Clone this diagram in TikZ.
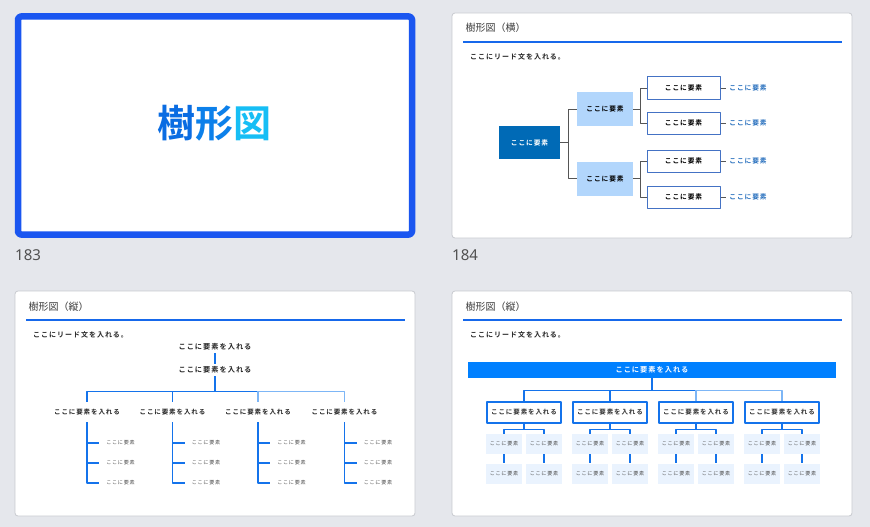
\documentclass[tikz,border=0pt]{standalone}
\usepackage{fontspec}
\newfontfamily\jpfont[BoldFont={Noto Sans CJK JP Bold}]{Noto Sans CJK JP}
\newfontfamily\jpwide[LetterSpace=14,BoldFont={Noto Sans CJK JP Bold}]{Noto Sans CJK JP}
\newfontfamily\numfont{Noto Sans}

\definecolor{deskgray}{RGB}{229,231,236}
\definecolor{selblue}{RGB}{26,86,240}
\definecolor{framegray}{RGB}{200,202,207}
\definecolor{rulerblue}{RGB}{22,104,235}
\definecolor{titlegray}{RGB}{60,60,60}
\definecolor{numgray}{RGB}{80,80,80}
\definecolor{rootblue}{RGB}{0,106,182}
\definecolor{midblue}{RGB}{178,214,252}
\definecolor{boxblue}{RGB}{68,114,196}
\definecolor{leafblue}{RGB}{40,112,190}
\definecolor{linkgray}{RGB}{85,85,85}
\definecolor{treeblue}{RGB}{20,115,235}
\definecolor{treelight}{RGB}{125,182,246}
\definecolor{barblue}{RGB}{0,128,255}
\definecolor{cellblue}{RGB}{234,243,254}
\definecolor{cellgray}{RGB}{80,80,80}
\definecolor{coverA}{RGB}{10,108,226}
\definecolor{coverB}{RGB}{12,128,234}
\definecolor{coverC}{RGB}{22,190,245}

\begin{document}
\begin{tikzpicture}[x=1pt, y=-1pt, line cap=round, line join=round,
  slide/.style={draw=framegray, line width=0.8pt, fill=white, rounded corners=3pt},
  slidetitle/.style={anchor=west, inner sep=0pt, text=titlegray, font=\jpfont\fontsize{10}{12}\selectfont},
  leadtext/.style={anchor=west, inner sep=0pt, text=black!85, font=\jpwide\bfseries\fontsize{7}{8}\selectfont},
  rule/.style={draw=rulerblue, line width=1.2pt, line cap=butt},
  pagenum/.style={anchor=west, inner sep=0pt, text=numgray, font=\numfont\fontsize{15}{18}\selectfont},
  % horizontal tree
  rootbox/.style={fill=rootblue, text=white, minimum width=61, minimum height=33, inner sep=0pt, font=\jpwide\bfseries\fontsize{6.7}{8}\selectfont},
  midbox/.style={fill=midblue, text=black, minimum width=56, minimum height=34, inner sep=0pt, font=\jpwide\bfseries\fontsize{6.7}{8}\selectfont},
  endbox/.style={draw=boxblue, line width=1pt, fill=white, text=black, minimum width=73, minimum height=22, inner sep=0pt, font=\jpwide\bfseries\fontsize{6.7}{8}\selectfont},
  endtext/.style={text=leafblue, inner xsep=3.5pt, inner ysep=0pt, font=\jpwide\bfseries\fontsize{6.7}{8}\selectfont},
  link/.style={draw=linkgray, line width=1pt, line cap=butt},
  % vertical trees
  vtext/.style={text=black!85, minimum height=12, inner xsep=0pt, inner ysep=0pt, font=\jpwide\bfseries\fontsize{7.2}{9}\selectfont},
  vgroup/.style={vtext, minimum height=20, font=\jpwide\bfseries\fontsize{6.5}{8}\selectfont},
  vleaf/.style={text=cellgray, inner xsep=7pt, inner ysep=0pt, font=\jpwide\fontsize{5.1}{6}\selectfont},
  vlink/.style={draw=treeblue, line width=1.1pt, line cap=butt},
  vlight/.style={draw=treelight, line width=1.1pt, line cap=butt},
  bar/.style={fill=barblue, text=white, minimum width=368, minimum height=16, inner sep=0pt, font=\jpwide\bfseries\fontsize{7.2}{9}\selectfont},
  groupbox/.style={draw=treeblue, line width=1.1pt, fill=white, text=black!80, minimum width=74, minimum height=21, inner sep=0pt, font=\jpwide\bfseries\fontsize{6.5}{8}\selectfont},
  cell/.style={fill=cellblue, text=cellgray, minimum width=36, minimum height=20, inner sep=0pt, font=\jpwide\fontsize{5.1}{6}\selectfont}]

% desk background fixes the page
\fill[deskgray] (0,0) rectangle (870,527);

% --- Slide 183 (selected) ---
\fill[white] (18,16.5) rectangle (412,234.5);
\draw[selblue, line width=6.5pt, rounded corners=3pt] (18,16.5) rectangle (412,234.5);
\node[inner sep=0pt, font=\jpfont\bfseries\fontsize{38}{40}\selectfont] (cover) at (214.5,123)
  {\textcolor{coverA}{樹}\textcolor{coverB}{形}\textcolor{coverC}{図}};
\node[pagenum] (n183) at (15,255) {183};

% --- Slide 184: horizontal tree ---
\draw[slide] (452,13) rectangle (852,238);
\node[slidetitle] (t184) at (465.5,28) {樹形図（横）};
\draw[rule] (463,42) -- (842,42);
\node[leadtext] (lead184) at (470,57) {ここにリード文を入れる。};
\node[pagenum] (n184) at (452,255) {184};

\node[rootbox] (root) at (529.5,142.5) {ここに要素};
\node[midbox] (mA) at (605,109) {ここに要素};
\node[midbox] (mB) at (605,178.5) {ここに要素};
\foreach \n/\y in {1/88,2/123,3/161,4/197}{
  \node[endbox] (e\n) at (683.5,\y) {ここに要素};
  \node[endtext] (r\n) at (748,\y) {ここに要素};
  \draw[link] (e\n.east) -- (r\n.west);
}
\draw[link] (root.east) -- ++(8.5,0) coordinate (jr);
\draw[link] (mA.west) -| (jr) |- (mB.west);
\draw[link] (mA.east) -- ++(7,0) coordinate (ja);
\draw[link] (e1.west) -| (ja) |- (e2.west);
\draw[link] (mB.east) -- ++(7,0) coordinate (jb);
\draw[link] (e3.west) -| (jb) |- (e4.west);

% --- Slide 3: vertical tree (text) ---
\draw[slide] (15,291) rectangle (415,516);
\node[slidetitle] (t3) at (28.5,307) {樹形図（縦）};
\draw[rule] (26,320) -- (405,320);
\node[leadtext] (lead3) at (33,335) {ここにリード文を入れる。};

\node[vtext] (v1) at (215,347) {ここに要素を入れる};
\node[vtext] (v2) at (215,370) {ここに要素を入れる};
\draw[vlink] (v1.south) -- (v2.north);
\draw[vlink] (v2.south) -- ++(0,15) coordinate (vj);
\foreach \i/\x in {1/87,2/172.5,3/258,4/344.5}{
  \node[vgroup] (g\i) at (\x,412) {ここに要素を入れる};
  \foreach \j/\y in {1/443,2/463,3/483}{
    \node[vleaf] (f\i\j) at (\x+33.5,\y) {ここに要素};
  }
  \draw[vlink] (g\i.south) |- (f\i3.west);
  \draw[vlink] (f\i1.west -| g\i.south) -- (f\i1.west);
  \draw[vlink] (f\i2.west -| g\i.south) -- (f\i2.west);
}
\draw[vlink] (g1.north) |- (vj) -- (vj -| g3.north);
\draw[vlink] (g2.north) -- (g2.north |- vj);
\draw[vlight] (vj -| g3.north) -| (g4.north);
\draw[vlight] (g3.north) -- (g3.north |- vj);

% --- Slide 4: vertical tree (boxes) ---
\draw[slide] (452,291) rectangle (852,516);
\node[slidetitle] (t4) at (465.5,307) {樹形図（縦）};
\draw[rule] (463,320) -- (842,320);
\node[leadtext] (lead4) at (470,335) {ここにリード文を入れる。};

\node[bar] (top) at (652,370) {ここに要素を入れる};
\draw[vlink] (top.south) -- ++(0,12) coordinate (bj);
\foreach \i/\c in {1/524,2/610,3/696,4/782}{
  \node[groupbox] (k\i) at (\c,412.5) {ここに要素を入れる};
  \draw[vlink] (k\i.south) -- ++(0,6) coordinate (kj\i);
  \node[cell] (p\i) at (\c-20,444) {ここに要素};
  \node[cell] (s\i) at (\c+20,444) {ここに要素};
  \node[cell] (q\i) at (\c-20,473.5) {ここに要素};
  \node[cell] (u\i) at (\c+20,473.5) {ここに要素};
  \draw[vlink] (p\i.north) |- (kj\i) -| (s\i.north);
  \draw[vlink] (p\i.south) -- (q\i.north);
  \draw[vlink] (s\i.south) -- (u\i.north);
}
\draw[vlink] (k1.north) |- (bj) -- (bj -| k3.north);
\draw[vlink] (k2.north) -- (k2.north |- bj);
\draw[vlight] (bj -| k3.north) -| (k4.north);
\draw[vlight] (k3.north) -- (k3.north |- bj);

\end{tikzpicture}
\end{document}
